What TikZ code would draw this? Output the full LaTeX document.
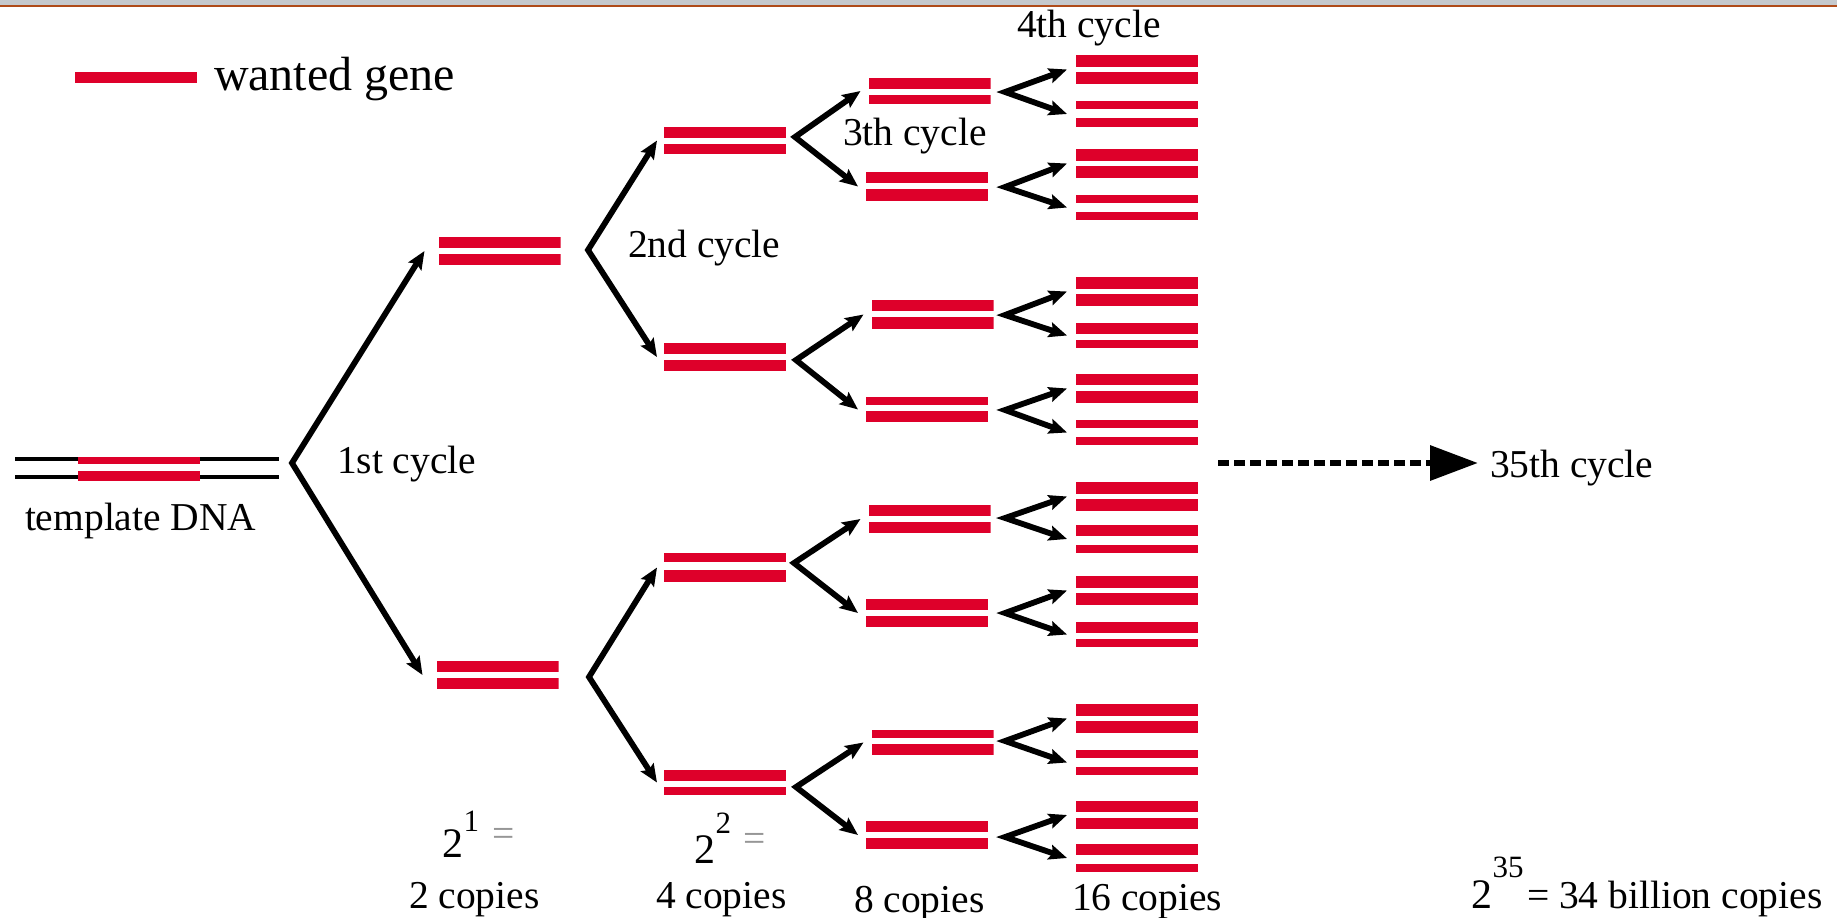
\documentclass[tikz,border=0pt]{standalone}
\usepackage{fontspec}
\setmainfont{Liberation Serif}
\usetikzlibrary{arrows.meta,calc}
\definecolor{gene}{RGB}{222,0,42}
\definecolor{topgray}{RGB}{197,201,205}
\definecolor{topbrown}{RGB}{175,75,25}
\definecolor{eqgray}{RGB}{150,150,150}
\tikzset{
  dna/.style n args={3}{minimum width=122pt, minimum height=#1, inner sep=0pt, outer sep=0pt,
    fill=white, draw=none,
    path picture={
      \fill[gene] (path picture bounding box.north west) rectangle ([yshift=-#2]path picture bounding box.north east);
      \fill[gene] (path picture bounding box.south west) rectangle ([yshift=#3]path picture bounding box.south east);
    }},
  arr/.style={line width=5.8pt, line join=miter,
    {Stealth[length=18pt,width=15pt,inset=3pt]}-{Stealth[length=18pt,width=15pt,inset=3pt]}},
  dasharr/.style={line width=6.5pt, dash pattern=on 11pt off 5pt,
    -{Triangle[length=48pt,width=34pt]}},
  strand/.style={line width=4.5pt, black},
  lbl/.style={inner sep=0pt, outer sep=0pt, anchor=base west, font=\fontsize{39.5pt}{47pt}\selectfont},
  biglbl/.style={lbl, font=\fontsize{42pt}{50pt}\selectfont},
  suplbl/.style={inner sep=0pt, outer sep=0pt, anchor=base west, font=\fontsize{31pt}{36pt}\selectfont},
  eqlbl/.style={lbl, text=eqgray},
}
\begin{document}
\begin{tikzpicture}[x=1pt,y=-1pt]
\useasboundingbox (0,0) rectangle (1837,918);
\fill[white] (0,0) rectangle (1837,918);
\fill[topgray] (0,0) rectangle (1837,5);
\fill[topbrown] (0,5) rectangle (1837,7);

% legend
\fill[gene] (75,72) rectangle (197,83);
\node[lbl, font=\fontsize{48pt}{56pt}\selectfont] (legend) at (214,90) {wanted gene};

% template DNA
\draw[strand] (15,459) -- (279,459);
\draw[strand] (15,477) -- (279,477);
\node[dna={24pt}{7pt}{10pt}] (tmpl) at (139,469) {};
\node[lbl] (tmpllbl) at (25,530) {template DNA};

% level 1
\node[dna={28pt}{11pt}{11pt}] (La) at (499.5,251) {};
\node[dna={28pt}{11pt}{11pt}] (Lb) at (497.5,675) {};
% level 2
\node[dna={27pt}{11pt}{10pt}] (A) at (725,140.5) {};
\node[dna={28pt}{11pt}{11pt}] (B) at (725,357) {};
\node[dna={29pt}{9pt}{12pt}] (C) at (725,567.5) {};
\node[dna={25pt}{11pt}{8pt}] (D) at (725,782.5) {};
% level 3
\node[dna={26pt}{11pt}{9pt}] (A1) at (929.5,91) {};
\node[dna={29pt}{11pt}{12pt}] (A2) at (927,186.5) {};
\node[dna={29pt}{11pt}{12pt}] (B1) at (932.5,314.5) {};
\node[dna={25pt}{8pt}{11pt}] (B2) at (927,409.5) {};
\node[dna={28pt}{11pt}{11pt}] (C1) at (929.5,519) {};
\node[dna={28pt}{11pt}{11pt}] (C2) at (927,613) {};
\node[dna={25pt}{8pt}{11pt}] (D1) at (932.5,742.5) {};
\node[dna={28pt}{11pt}{11pt}] (D2) at (927,835) {};
% level 4
\foreach \n/\y/\h/\t/\b in {
  1/69.5/29pt/12pt/12pt, 2/114/26pt/8pt/9pt,
  3/163.5/29pt/12pt/12pt, 4/207.5/25pt/8pt/8pt,
  5/291.5/29pt/12pt/12pt, 6/335.5/25pt/11pt/8pt,
  7/388.5/29pt/11pt/12pt, 8/432.5/25pt/8pt/8pt,
  9/496.5/29pt/12pt/12pt, 10/539/28pt/11pt/8pt,
  11/590.5/29pt/12pt/12pt, 12/634.5/25pt/11pt/8pt,
  13/718.5/29pt/12pt/12pt, 14/762.5/25pt/8pt/8pt,
  15/815/28pt/11pt/11pt, 16/858/28pt/11pt/8pt}
  \node[dna={\h}{\t}{\b}] (q\n) at (1137,\y) {};

% branch points
\coordinate (v0) at (292,463);
\coordinate (vLa) at (588,250);
\coordinate (vLb) at (589,677);
\coordinate (vA) at (795,137);
\coordinate (vB) at (796,360);
\coordinate (vC) at (794,563);
\coordinate (vD) at (796,787);
\foreach \nm/\y in {A1/92, A2/187, B1/315, B2/410, C1/518, C2/613, D1/741, D2/837}
  \coordinate (v\nm) at (1005,\y);

% connectors
\draw[arr] ([xshift=-14pt]La.west) -- (v0) -- ([xshift=-14pt]Lb.west);
\draw[arr] ([xshift=-7pt]A.west) -- (vLa) -- ([xshift=-7pt]B.west);
\draw[arr] ([xshift=-7pt]C.west) -- (vLb) -- ([xshift=-7pt]D.west);
\draw[arr] ([xshift=-8pt]A1.west) -- (vA) -- ([xshift=-8pt]A2.west);
\draw[arr] ([xshift=-8pt]B1.west) -- (vB) -- ([xshift=-8pt]B2.west);
\draw[arr] ([xshift=-8pt]C1.west) -- (vC) -- ([xshift=-8pt]C2.west);
\draw[arr] ([xshift=-8pt]D1.west) -- (vD) -- ([xshift=-8pt]D2.west);
\draw[arr] ([xshift=-9pt]q1.west) -- (vA1) -- ([xshift=-9pt]q2.west);
\draw[arr] ([xshift=-9pt]q3.west) -- (vA2) -- ([xshift=-9pt]q4.west);
\draw[arr] ([xshift=-9pt]q5.west) -- (vB1) -- ([xshift=-9pt]q6.west);
\draw[arr] ([xshift=-9pt]q7.west) -- (vB2) -- ([xshift=-9pt]q8.west);
\draw[arr] ([xshift=-9pt]q9.west) -- (vC1) -- ([xshift=-9pt]q10.west);
\draw[arr] ([xshift=-9pt]q11.west) -- (vC2) -- ([xshift=-9pt]q12.west);
\draw[arr] ([xshift=-9pt]q13.west) -- (vD1) -- ([xshift=-9pt]q14.west);
\draw[arr] ([xshift=-9pt]q15.west) -- (vD2) -- ([xshift=-9pt]q16.west);

% cycle labels
\node[lbl] (c1) at (337,473) {1st cycle};
\node[lbl] (c2) at (628,257) {2nd cycle};
\node[lbl] (c3) at (843,145) {3th cycle};
\node[lbl] (c4) at (1017,37) {4th cycle};
\node[lbl] (c35) at (1490,477) {35th cycle};
\coordinate (dstart) at (1218,463);
\draw[dasharr] (dstart) -- ([xshift=-12pt]dstart -| c35.west);

% copies labels
\node[biglbl] (p1) at (442,857) {2};
\node[suplbl] (p1s) at (463.5,831) {1};
\node[eqlbl] (p1e) at (492,846) {=};
\node[lbl] (n2) at (409,908) {2 copies};

\node[biglbl] (p2) at (694,863) {2};
\node[suplbl] (p2s) at (715.5,833) {2};
\node[eqlbl] (p2e) at (743,851) {=};
\node[lbl] (n4) at (656,908) {4 copies};

\node[lbl] (n8) at (854,912) {8 copies};
\node[lbl] (n16) at (1072,910) {16 copies};

\node[biglbl] (p35) at (1471,908) {2};
\node[suplbl] (p35s) at (1492.5,877) {35};
\node[lbl] (n35) at (1527,908) {= 34 billion copies};
\end{tikzpicture}
\end{document}
